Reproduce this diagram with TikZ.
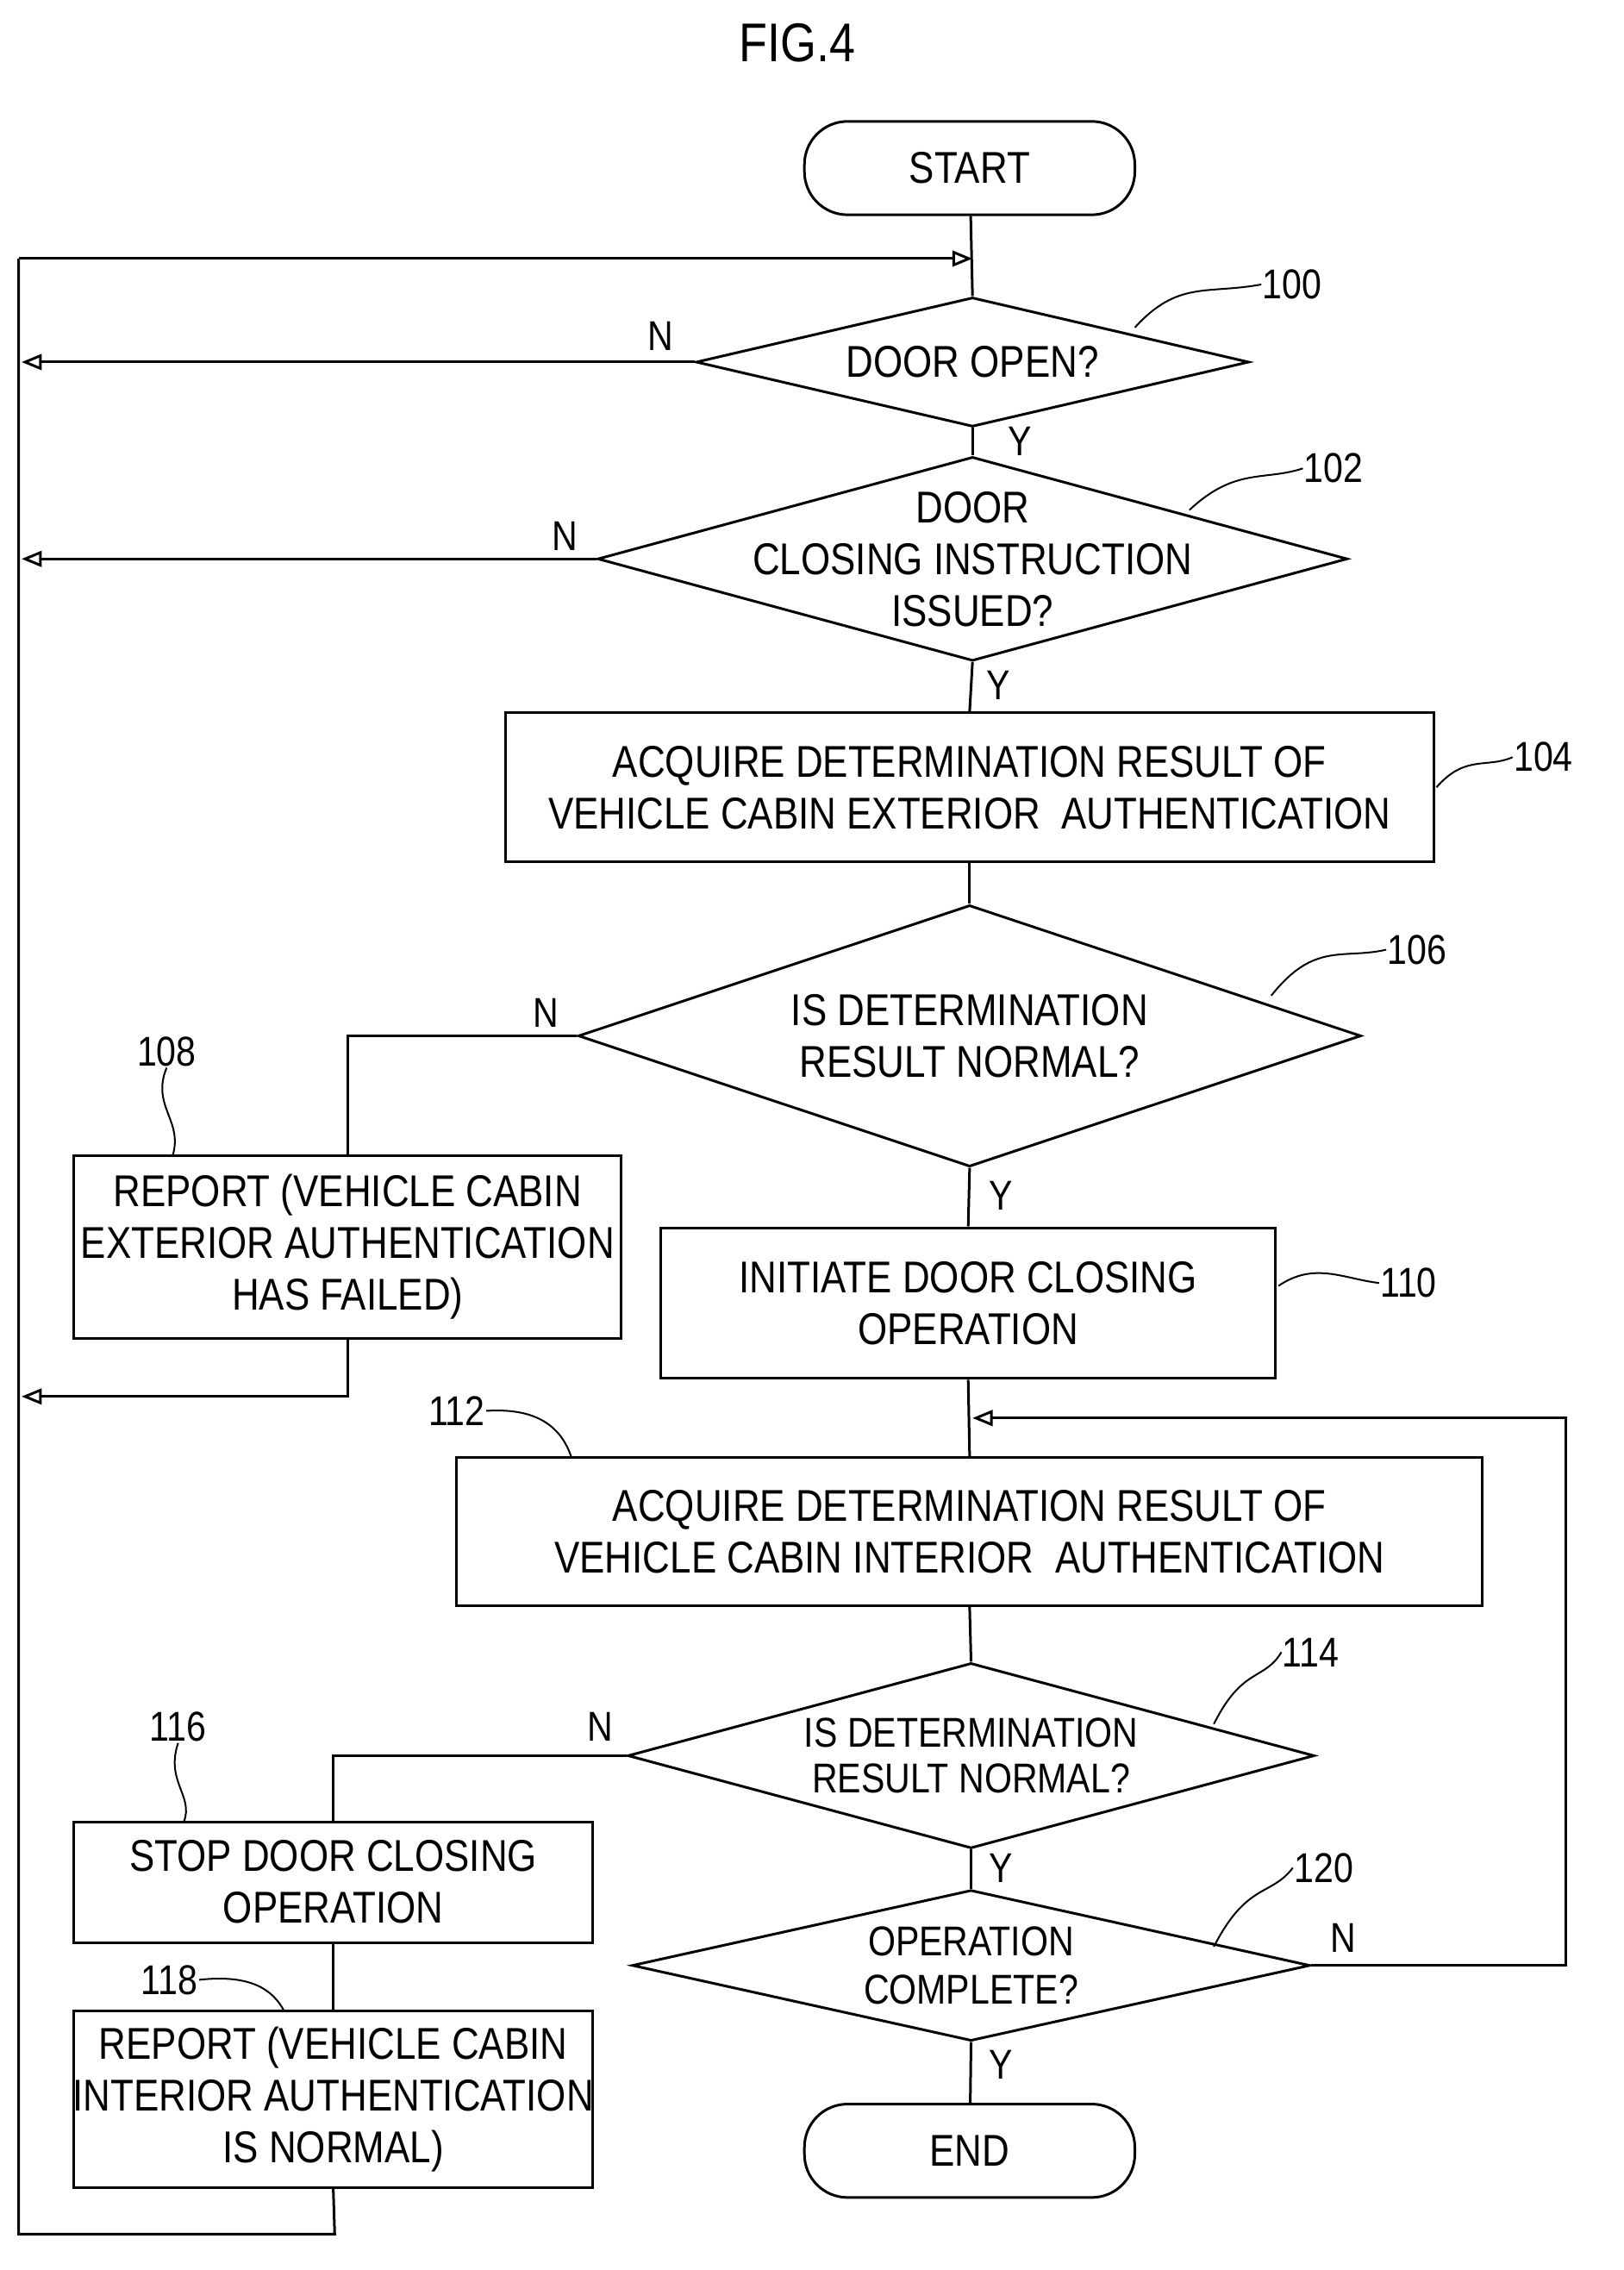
\documentclass[tikz,border=0pt]{standalone}
\usepackage{fontspec}
\setmainfont{Liberation Sans}[FakeStretch=0.85]
\usetikzlibrary{shapes.geometric,arrows.meta}
\begin{document}
\begin{tikzpicture}[x=1pt,y=-1pt,line width=1.8pt,
 txt/.style={font=\fontsize{31}{36}\selectfont,align=center,inner sep=0},
 box/.style={draw,rectangle,inner sep=0},
 term/.style={draw,rounded corners=30pt,minimum width=230pt,minimum height=65pt,inner sep=0},
 dia/.style={draw,diamond,inner sep=0},
 lab/.style={font=\fontsize{29}{32}\selectfont,inner sep=0},
 arr/.style={-{Triangle[open,length=14pt,width=11pt]}},
 lead/.style={line width=1.2pt}]
\useasboundingbox (0,0) rectangle (1130,1580);
\node[font=\fontsize{38}{42}\selectfont] (fig) at (555,30) {FIG.4};
\node[term] (start) at (675,117) {}; \node[txt] at (start) {START};
\node[term] (end) at (675,1497) {}; \node[txt] at (end) {END};
% diamonds
\node[dia,minimum width=385pt,minimum height=90pt] (d100) at (677,252) {};
\node[txt] at (d100) {DOOR OPEN?};
\node[dia,minimum width=522pt,minimum height=142pt] (d102) at (677,389) {};
\node[txt] at (d102) {DOOR\\CLOSING INSTRUCTION\\ISSUED?};
\node[dia,minimum width=545pt,minimum height=182pt] (d106) at (675,721) {};
\node[txt] at (d106) {IS DETERMINATION\\RESULT NORMAL?};
\node[dia,minimum width=478pt,minimum height=129pt] (d114) at (676,1222) {};
\node[txt,font=\fontsize{29}{32}\selectfont] at (d114) {IS DETERMINATION\\RESULT NORMAL?};
\node[dia,minimum width=472pt,minimum height=105pt] (d120) at (676,1368) {};
\node[txt,font=\fontsize{29}{34}\selectfont] at (d120) {OPERATION\\COMPLETE?};
% boxes
\node[box,minimum width=646pt,minimum height=104pt] (b104) at (675,548) {};
\node[txt] at (b104) {ACQUIRE DETERMINATION RESULT OF\\VEHICLE CABIN EXTERIOR\ \ AUTHENTICATION};
\node[box,minimum width=381pt,minimum height=127pt] (b108) at (242,868) {};
\node[txt] at (b108) {REPORT (VEHICLE CABIN\\EXTERIOR AUTHENTICATION\\HAS FAILED)};
\node[box,minimum width=428pt,minimum height=105pt] (b110) at (674,907) {};
\node[txt] at (b110) {INITIATE DOOR CLOSING\\OPERATION};
\node[box,minimum width=714pt,minimum height=103pt] (b112) at (675,1066) {};
\node[txt] at (b112) {ACQUIRE DETERMINATION RESULT OF\\VEHICLE CABIN INTERIOR\ \ AUTHENTICATION};
\node[box,minimum width=361pt,minimum height=84pt] (b116) at (232,1310) {};
\node[txt] at (b116) {STOP DOOR CLOSING\\OPERATION};
\node[box,minimum width=361pt,minimum height=123pt] (b118) at (232,1461) {};
\node[txt] at (b118) {REPORT (VEHICLE CABIN\\INTERIOR AUTHENTICATION\\IS NORMAL)};
% coordinates
\coordinate (top) at (677,180);
\coordinate (lt) at (13,180);
\coordinate (lb) at (13,1555);
\coordinate (merge) at (677,987);
% main flow
\draw (start) -- (d100.north);
\draw (d100.south) -- (d102.north);
\draw (d102.south) -- (b104.north);
\draw (b104.south) -- (d106.north);
\draw (d106.south) -- (b110.north);
\draw (b110.south) -- (b112.north);
\draw (b112.south) -- (d114.north);
\draw (d114.south) -- (d120.north);
\draw (d120.south) -- (end);
% loops
\draw[arr] (lt) -- (top);
\draw (b118.south) -- (233,1555) -- (lb) -- (lt);
\draw[arr] (d100.west) -- (15,252);
\draw[arr] (d102.west) -- (15,389);
\draw (d106.west) -| (b108.north);
\draw[arr] (b108.south) |- (15,972);
\draw (d114.west) -| (b116.north);
\draw (b116.south) -- (b118.north);
\draw[arr] (d120.east) -- (1090,1368) |- (merge);
% Y/N
\node[lab] at (460,234) {N};
\node[lab] at (710,307) {Y};
\node[lab] at (393,373) {N};
\node[lab] at (695,477) {Y};
\node[lab] at (380,705) {N};
\node[lab] at (697,832) {Y};
\node[lab] at (418,1202) {N};
\node[lab] at (697,1300) {Y};
\node[lab] at (935,1349) {N};
\node[lab] at (697,1437) {Y};
% step numbers
\node[lab,anchor=west] (n100) at (878,198) {100};
\draw[lead] (790,228) .. controls (820,195) and (840,205) .. (n100.west);
\node[lab,anchor=west] (n102) at (907,326) {102};
\draw[lead] (828,355) .. controls (860,325) and (880,335) .. (n102.west);
\node[lab,anchor=west] (n104) at (1053,527) {104};
\draw[lead] (1000,548) .. controls (1020,525) and (1035,535) .. (n104.west);
\node[lab,anchor=west] (n106) at (965,661) {106};
\draw[lead] (885,693) .. controls (915,655) and (935,668) .. (n106.west);
\node[lab] (n108) at (116,732) {108};
\draw[lead] (n108.south) .. controls (105,770) and (128,780) .. (120,805);
\node[lab,anchor=west] (n110) at (960,893) {110};
\draw[lead] (890,895) .. controls (915,878) and (935,890) .. (n110.west);
\node[lab] (n112) at (318,982) {112};
\draw[lead] (n112.east) .. controls (370,980) and (390,990) .. (398,1015);
\node[lab,anchor=west] (n114) at (892,1150) {114};
\draw[lead] (845,1200) .. controls (865,1160) and (880,1170) .. (n114.west);
\node[lab] (n116) at (124,1202) {116};
\draw[lead] (n116.south) .. controls (115,1240) and (135,1250) .. (128,1268);
\node[lab,anchor=west] (n120) at (900,1300) {120};
\draw[lead] (845,1355) .. controls (868,1310) and (885,1320) .. (n120.west);
\node[lab] (n118) at (118,1378) {118};
\draw[lead] (n118.east) .. controls (175,1374) and (190,1385) .. (198,1400);
\end{tikzpicture}
\end{document}
